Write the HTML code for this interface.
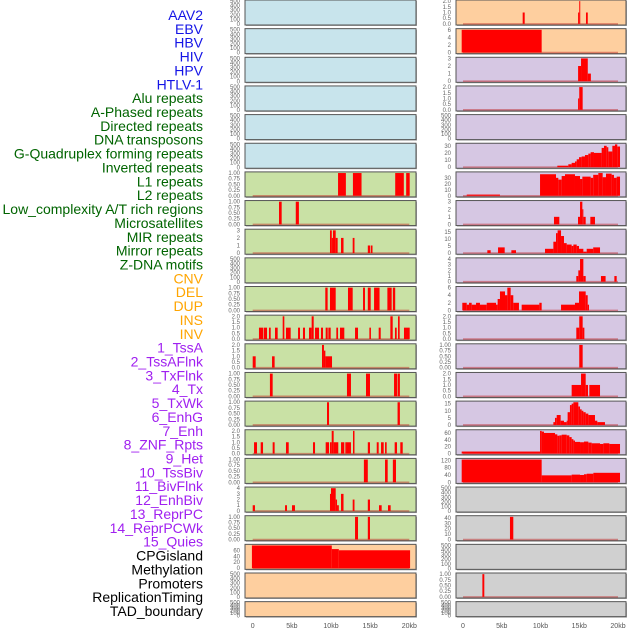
<!DOCTYPE html>
<html><head><meta charset="utf-8"><style>
html,body{margin:0;padding:0;background:#fff;}
svg{display:block;font-family:"Liberation Sans",sans-serif;}
</style></head><body>
<svg id="chart" width="630" height="630" viewBox="0 0 630 630" xmlns="http://www.w3.org/2000/svg"></svg>
<script>
const trackLabels = ["AAV2","EBV","HBV","HIV","HPV","HTLV-1","Alu repeats","A-Phased repeats","Directed repeats","DNA transposons","G-Quadruplex forming repeats","Inverted repeats","L1 repeats","L2 repeats","Low_complexity A/T rich regions","Microsatellites","MIR repeats","Mirror repeats","Z-DNA motifs","CNV","DEL","DUP","INS","INV","1_TssA","2_TssAFlnk","3_TxFlnk","4_Tx","5_TxWk","6_EnhG","7_Enh","8_ZNF_Rpts","9_Het","10_TssBiv","11_BivFlnk","12_EnhBiv","13_ReprPC","14_ReprPCWk","15_Quies","CPGisland","Methylation","Promoters","ReplicationTiming","TAD_boundary"];
const trackGroups = ["virus","virus","virus","virus","virus","virus","repeat","repeat","repeat","repeat","repeat","repeat","repeat","repeat","repeat","repeat","repeat","repeat","repeat","sv","sv","sv","sv","sv","chrom","chrom","chrom","chrom","chrom","chrom","chrom","chrom","chrom","chrom","chrom","chrom","chrom","chrom","chrom","other","other","other","other","other"];
const xTickValues = [0,5,10,15,20];
const xTickLabels = ["0","5kb","10kb","15kb","20kb"];
// segments: [startKb, endKb, value]
const d_empty = [];
const d_alu = [[10.9,11.9,1],[12.8,13.9,1],[18.2,19.3,1],[19.6,20.05,1]];
const d_aphased = [[3.36,3.7,1],[5.5,5.9,1]];
const d_directed = [[9.87,10.1,3],[10.1,10.25,2],[10.25,10.6,3],[10.6,10.85,2],[11.28,11.6,2],[12.77,13.0,2],[14.7,14.98,1],[15.07,15.3,1]];
const d_gquad = [[9.27,9.57,1],[9.87,10.6,1],[12.17,12.77,1],[14.09,14.34,1],[14.7,15.07,1],[15.5,16.2,1],[17.2,17.75,1],[17.9,18.2,1]];
const d_inverted = [[0.8,1.36,1],[1.44,1.83,1],[2.08,2.3,1],[2.85,3.19,1],[3.83,4.04,2],[4.25,4.85,1],[5.79,6.04,1],[6.42,6.68,1],[7.19,7.53,1],[7.53,7.79,2],[7.96,8.47,1],[8.72,8.98,1],[9.32,9.58,1],[9.66,9.96,1],[10.68,10.9,1],[11.15,11.7,1],[13.07,13.45,1],[14.9,15.1,1],[16.09,16.35,1],[17.58,17.88,2],[18.17,18.39,1],[18.56,18.77,2],[19.32,20.05,1]];
const d_l1 = [[0,0.38,1],[2.47,2.8,1],[8.85,9.1,2],[9.1,9.28,1.5],[9.28,10.13,1]];
const d_l2 = [[2.2,2.55,1],[12.04,12.55,1],[14.47,14.98,1],[18.05,18.43,1],[18.5,18.8,1]];
const d_lowcomp = [[9.49,9.75,1],[18.5,18.8,1]];
const d_micro = [[0.17,0.55,1],[1.02,1.32,1],[2.55,2.8,1],[4.25,4.6,1],[7.7,7.96,1],[9.32,9.75,1],[9.87,10.09,1],[10.09,10.34,2],[10.34,10.93,1],[11.28,11.7,1],[11.83,12.04,1],[12.04,12.3,1],[12.3,12.55,1],[12.81,13.0,2],[14.7,14.98,1],[15.84,16.09,1],[16.39,16.73,1],[16.9,17.11,1],[18.13,18.43,1],[18.85,19.16,1]];
const d_mir = [[14.2,14.7,1],[16.9,17.24,1],[17.9,18.3,1]];
const d_mirror = [[0,0.29,1],[4.13,4.38,1],[5.02,5.4,1],[9.87,10.0,3],[10.0,10.6,4],[10.6,10.77,2],[10.77,11.0,1],[11.28,11.6,3],[12.77,13.0,2],[14.7,14.98,2],[16.13,16.47,1],[17.28,17.62,1]];
const d_zdna = [[13.07,13.45,1],[14.7,14.98,1]];
const d_cnv = [[-0.1,10.1,76],[10.1,11.0,64],[11.0,20.1,60]];
const d_ins = [[7.7,7.96,1],[14.85,15.0,1],[15.0,15.1,2],[15.87,16.1,1]];
const d_inv = [[-0.17,10.15,6]];
const d_tssa = [[14.85,15.23,2],[15.23,16.1,3],[16.1,16.5,1]];
const d_tssaflnk = [[14.85,15.0,1],[15.0,15.44,2]];
const d_tx = [[12.17,13.59,2],[13.59,14.02,4],[14.02,14.45,6],[14.45,14.67,8],[14.67,14.97,11],[14.97,15.31,14],[15.31,15.74,15],[15.74,16.17,17],[16.17,16.47,19],[16.47,16.9,21],[16.9,17.89,20],[17.89,18.19,27],[18.19,18.54,30],[18.54,18.75,28],[18.75,19.27,22],[19.27,19.61,30],[19.61,19.91,32],[19.91,20.26,29]];
const d_txwk = [[0.48,4.77,2],[9.94,12.0,36],[12.0,12.3,30],[12.3,12.73,27],[12.73,13.16,33],[13.16,14.45,36],[14.45,15.1,33],[15.1,15.4,28],[15.4,16.47,32],[16.47,16.8,30],[16.8,17.46,35],[17.46,18.02,38],[18.02,18.45,31],[18.45,19.18,37],[19.18,19.48,35],[19.48,19.83,30],[19.83,20.26,32]];
const d_enhg = [[11.74,12.43,1],[14.84,15.1,1],[15.1,15.4,3],[15.4,15.53,2],[15.53,15.83,1],[16.43,17.03,1]];
const d_enh = [[3.14,3.57,2],[4.52,5.38,4],[6.24,6.84,2],[10.58,11.66,3],[11.66,12.0,8],[12.0,12.21,14],[12.21,12.65,16],[12.65,13.03,12],[13.03,13.38,7],[13.38,14.02,6],[14.02,14.24,5],[14.24,14.67,6],[14.67,14.97,5],[14.97,15.53,3],[15.53,15.96,1],[15.96,16.8,3],[16.8,17.68,4]];
const d_znf = [[14.62,14.88,1],[14.88,15.1,2],[15.1,15.53,4],[15.53,15.83,1],[17.8,18.4,1],[19.53,19.83,1]];
const d_het = [[-0.09,0.48,2],[0.48,0.78,1.5],[0.78,1.12,2],[1.12,1.68,1.5],[1.68,2.19,2],[2.19,3.06,1.5],[3.06,4.26,2],[4.26,4.47,1.5],[4.47,4.77,3],[4.77,5.42,5],[5.42,5.72,4],[5.72,6.15,6],[6.15,6.49,4],[6.49,7.22,2],[7.57,9.85,1.5],[9.85,10.15,2],[12.65,14.45,1.5],[14.45,14.97,2],[14.97,15.83,5],[15.83,16.09,4],[16.09,16.26,1.5]];
const d_tssbiv = [[14.62,15.0,1],[15.0,15.44,2],[15.44,15.66,1]];
const d_bivflnk = [[15.0,15.44,1]];
const d_enhbiv = [[14.02,15.23,1],[15.23,15.83,2],[15.83,16.13,1],[16.3,17.68,1]];
const d_reprpc = [[11.66,11.87,2],[11.87,12.09,5],[12.09,12.6,7],[12.6,13.03,3],[13.03,13.38,2],[13.38,13.5,3],[13.5,13.8,9],[13.8,14.02,14],[14.02,14.24,15],[14.24,14.88,16],[14.88,15.1,13],[15.1,15.31,11],[15.31,15.53,10],[15.53,15.83,9],[15.83,16.17,8],[16.17,17.03,7],[17.03,17.33,3],[17.33,18.32,2]];
const d_reprpcwk = [[-0.17,9.94,6],[9.94,10.15,66],[10.15,10.45,64],[10.45,11.87,60],[11.87,12.17,56],[12.17,12.43,52],[12.43,12.73,53],[12.73,13.38,55],[13.38,13.72,53],[13.72,14.02,48],[14.02,14.24,42],[14.24,14.45,38],[14.45,15.1,34],[15.1,15.61,33],[15.61,16.17,35],[16.17,16.6,32],[16.6,17.68,30],[17.68,18.11,28],[18.11,18.88,30],[18.88,20.26,28]];
const d_quies = [[-0.17,10.15,125],[10.15,14.02,38],[14.02,15.1,42],[15.1,15.61,40],[15.61,15.96,44],[15.96,16.82,47],[16.82,20.26,52]];
const d_methyl = [[6.06,6.49,42]];
const d_reptiming = [[2.5,2.75,1]];
const trackData = [d_empty,d_empty,d_empty,d_empty,d_empty,d_empty,d_alu,d_aphased,d_directed,d_empty,d_gquad,d_inverted,d_l1,d_l2,d_lowcomp,d_micro,d_mir,d_mirror,d_zdna,d_cnv,d_empty,d_empty,
 d_ins,d_inv,d_tssa,d_tssaflnk,d_empty,d_tx,d_txwk,d_enhg,d_enh,d_znf,d_het,d_tssbiv,d_bivflnk,d_enhbiv,d_reprpc,d_reprpcwk,d_quies,d_empty,d_methyl,d_empty,d_reptiming,d_empty];

const NS = "http://www.w3.org/2000/svg";
const svg = document.getElementById("chart");
const labelColor = {virus:"#1414e6",repeat:"#006400",sv:"#ffa500",chrom:"#a020f0",other:"#000"};
const panelFill = {virus:"#c8e4ec",repeat:"#c9e1a5",sv:"#fecf9f",chrom:"#d6c7e3",other:"#d0d0d0"};
function el(tag, attrs, parent){const e=document.createElementNS(NS,tag);for(const k in attrs)e.setAttribute(k,attrs[k]);(parent||svg).appendChild(e);return e;}
function slug(s){return s.toLowerCase().replace(/[^a-z0-9]+/g,'-').replace(/^-|-$/g,'');}

trackLabels.forEach((t,i)=>{
  const tx = el("text",{x:203,y:15+i*13.86+5,"text-anchor":"end","font-size":"14",fill:labelColor[trackGroups[i]]});
  tx.textContent = t;
  
  
});

const cols = [{left:245,right:416,x0:252.7,k:7.83,tickX:240},{left:456,right:626,x0:463,k:7.75,tickX:451}];
function niceTicks(m){
  const T=1.05*m; const steps=[0.25,0.5,1,2,5,10,20,40,100];
  for(const s of steps){ if(Math.floor(T/s+1e-9)<=4){const r=[];for(let v=0;v<=T+1e-9;v+=s)r.push(+v.toFixed(3));return {ticks:r,step:s};} }
}
for(let idx=0; idx<44; idx++){
  const col = idx<22?0:1, row = idx%22;
  const c = cols[col];
  const top = row*28.65, h = row===21?15:25, bot = top+h;
  const g = el("g",{});
  
  
  el("rect",{x:c.left+1,y:top+1,width:c.right-c.left,height:h,fill:"#aaa"},g);
  el("rect",{x:c.left,y:top,width:c.right-c.left,height:h,fill:panelFill[trackGroups[idx]],stroke:"#555","stroke-width":1},g);
  const data = trackData[idx] || [];
  const xs = kb => c.x0 + kb*c.k;
  let ticks, fmt, ys;
  if(data.length===0){
    ticks=[0,100,200,300,400,500]; fmt=v=>String(v);
    ys = v => (bot-1) - (v/500)*(h-2);
  } else {
    const m = Math.max(...data.map(d=>d[2]));
    const nt = niceTicks(m); ticks=nt.ticks;
    const dec = nt.step===0.25?2:(nt.step===0.5?1:0);
    fmt = v=>v.toFixed(dec);
    const lo=-0.05*m, hi=1.05*m;
    ys = v => bot - (v-lo)/(hi-lo)*h;
    const base = el("line",{x1:xs(0),x2:xs(20),y1:ys(0),y2:ys(0),stroke:"rgba(190,30,30,0.45)","stroke-width":1.6},g);
    
    
    data.forEach(d=>{
      const r = el("rect",{x:xs(d[0]),y:ys(d[2]),width:Math.max(xs(d[1])-xs(d[0]),1),height:ys(0)-ys(d[2]),fill:"#ff0000"},g);
      
      
    });
  }
  ticks.forEach(v=>{
    const t = el("text",{x:c.tickX,y:ys(v)+2,"text-anchor":"end","font-size":"6",fill:"#666"},g);
    t.textContent = fmt(v);
    
    
  });
}
cols.forEach((c,ci)=>{
  xTickValues.forEach((v,i)=>{
    const t = el("text",{x:c.x0+v*c.k,y:628,"text-anchor":"middle","font-size":"7",fill:"#555"});
    t.textContent = xTickLabels[i];
    
    
  });
});
</script>
</body></html>
